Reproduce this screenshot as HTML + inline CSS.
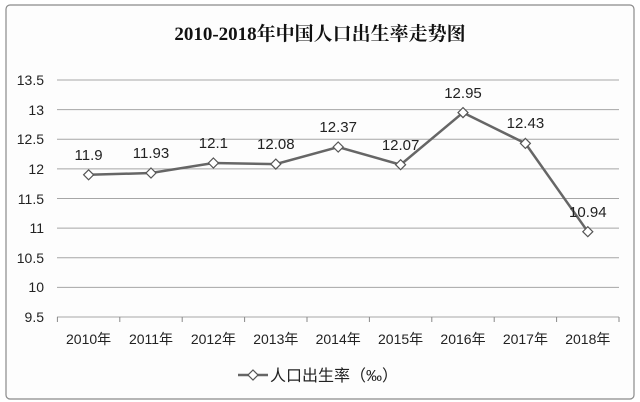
<!DOCTYPE html>
<html><head><meta charset="utf-8"><style>
body{margin:0;background:#fff;}
svg{display:block;font-family:"Liberation Sans","Noto Sans CJK SC",sans-serif;}
</style></head><body>
<svg width="640" height="402" viewBox="0 0 640 402">
<rect x="6" y="5" width="628" height="394" rx="4" fill="#fdfdfd" stroke="#8a8a8a" stroke-width="1.2"/>
<text x="320" y="40" text-anchor="middle" font-size="19" font-weight="bold" font-family="'Liberation Serif','Noto Serif CJK SC',serif" fill="#111">2010-2018年中国人口出生率走势图</text>
<g stroke="#a6a6a6" stroke-width="1">
<line x1="57" x2="619" y1="80" y2="80"/><line x1="57" x2="619" y1="109.6" y2="109.6"/>
<line x1="57" x2="619" y1="139.3" y2="139.3"/><line x1="57" x2="619" y1="168.9" y2="168.9"/>
<line x1="57" x2="619" y1="198.5" y2="198.5"/><line x1="57" x2="619" y1="228.1" y2="228.1"/>
<line x1="57" x2="619" y1="257.8" y2="257.8"/><line x1="57" x2="619" y1="287.4" y2="287.4"/>
<line x1="57" x2="619" y1="317" y2="317"/>
</g>
<g stroke="#888" stroke-width="1">
<line x1="57.4" x2="57.4" y1="317" y2="322"/><line x1="119.8" x2="119.8" y1="317" y2="322"/>
<line x1="182.2" x2="182.2" y1="317" y2="322"/><line x1="244.6" x2="244.6" y1="317" y2="322"/>
<line x1="307" x2="307" y1="317" y2="322"/><line x1="369.4" x2="369.4" y1="317" y2="322"/>
<line x1="431.8" x2="431.8" y1="317" y2="322"/><line x1="494.2" x2="494.2" y1="317" y2="322"/>
<line x1="556.6" x2="556.6" y1="317" y2="322"/><line x1="619" x2="619" y1="317" y2="322"/>
</g>
<g font-size="14" fill="#222" text-anchor="end">
<text x="44" y="85">13.5</text><text x="44" y="115">13</text><text x="44" y="144">12.5</text>
<text x="44" y="174">12</text><text x="44" y="204">11.5</text><text x="44" y="233">11</text>
<text x="44" y="263">10.5</text><text x="44" y="292">10</text><text x="44" y="322">9.5</text>
</g>
<g font-size="14" fill="#222" text-anchor="middle">
<text x="88.6" y="344">2010年</text><text x="151" y="344">2011年</text><text x="213.4" y="344">2012年</text>
<text x="275.8" y="344">2013年</text><text x="338.2" y="344">2014年</text><text x="400.6" y="344">2015年</text>
<text x="463" y="344">2016年</text><text x="525.4" y="344">2017年</text><text x="587.8" y="344">2018年</text>
</g>
<polyline fill="none" stroke="#666" stroke-width="2.5" points="88.6,174.8 151,173 213.4,163 275.8,164.1 338.2,147 400.6,164.7 463,112.6 525.4,143.4 587.8,231.7"/>
<g fill="#fff" stroke="#555" stroke-width="1.2">
<path d="M88.6,169.8l5,5l-5,5l-5,-5z"/><path d="M151,168l5,5l-5,5l-5,-5z"/>
<path d="M213.4,158l5,5l-5,5l-5,-5z"/><path d="M275.8,159.1l5,5l-5,5l-5,-5z"/>
<path d="M338.2,142l5,5l-5,5l-5,-5z"/><path d="M400.6,159.7l5,5l-5,5l-5,-5z"/>
<path d="M463,107.6l5,5l-5,5l-5,-5z"/><path d="M525.4,138.4l5,5l-5,5l-5,-5z"/>
<path d="M587.8,226.7l5,5l-5,5l-5,-5z"/>
</g>
<g font-size="15" fill="#222" text-anchor="middle">
<text x="88.6" y="160">11.9</text><text x="151" y="158">11.93</text><text x="213.4" y="148">12.1</text>
<text x="275.8" y="149">12.08</text><text x="338.2" y="132">12.37</text><text x="400.6" y="150">12.07</text>
<text x="463" y="98">12.95</text><text x="525.4" y="128">12.43</text><text x="587.8" y="217">10.94</text>
</g>
<line x1="238" x2="268" y1="375" y2="375" stroke="#666" stroke-width="2.5"/>
<path d="M253,370l5,5l-5,5l-5,-5z" fill="#fff" stroke="#555" stroke-width="1.2"/>
<text x="270" y="381" font-size="16" fill="#222">人口出生率（‰）</text>
</svg>
</body></html>
